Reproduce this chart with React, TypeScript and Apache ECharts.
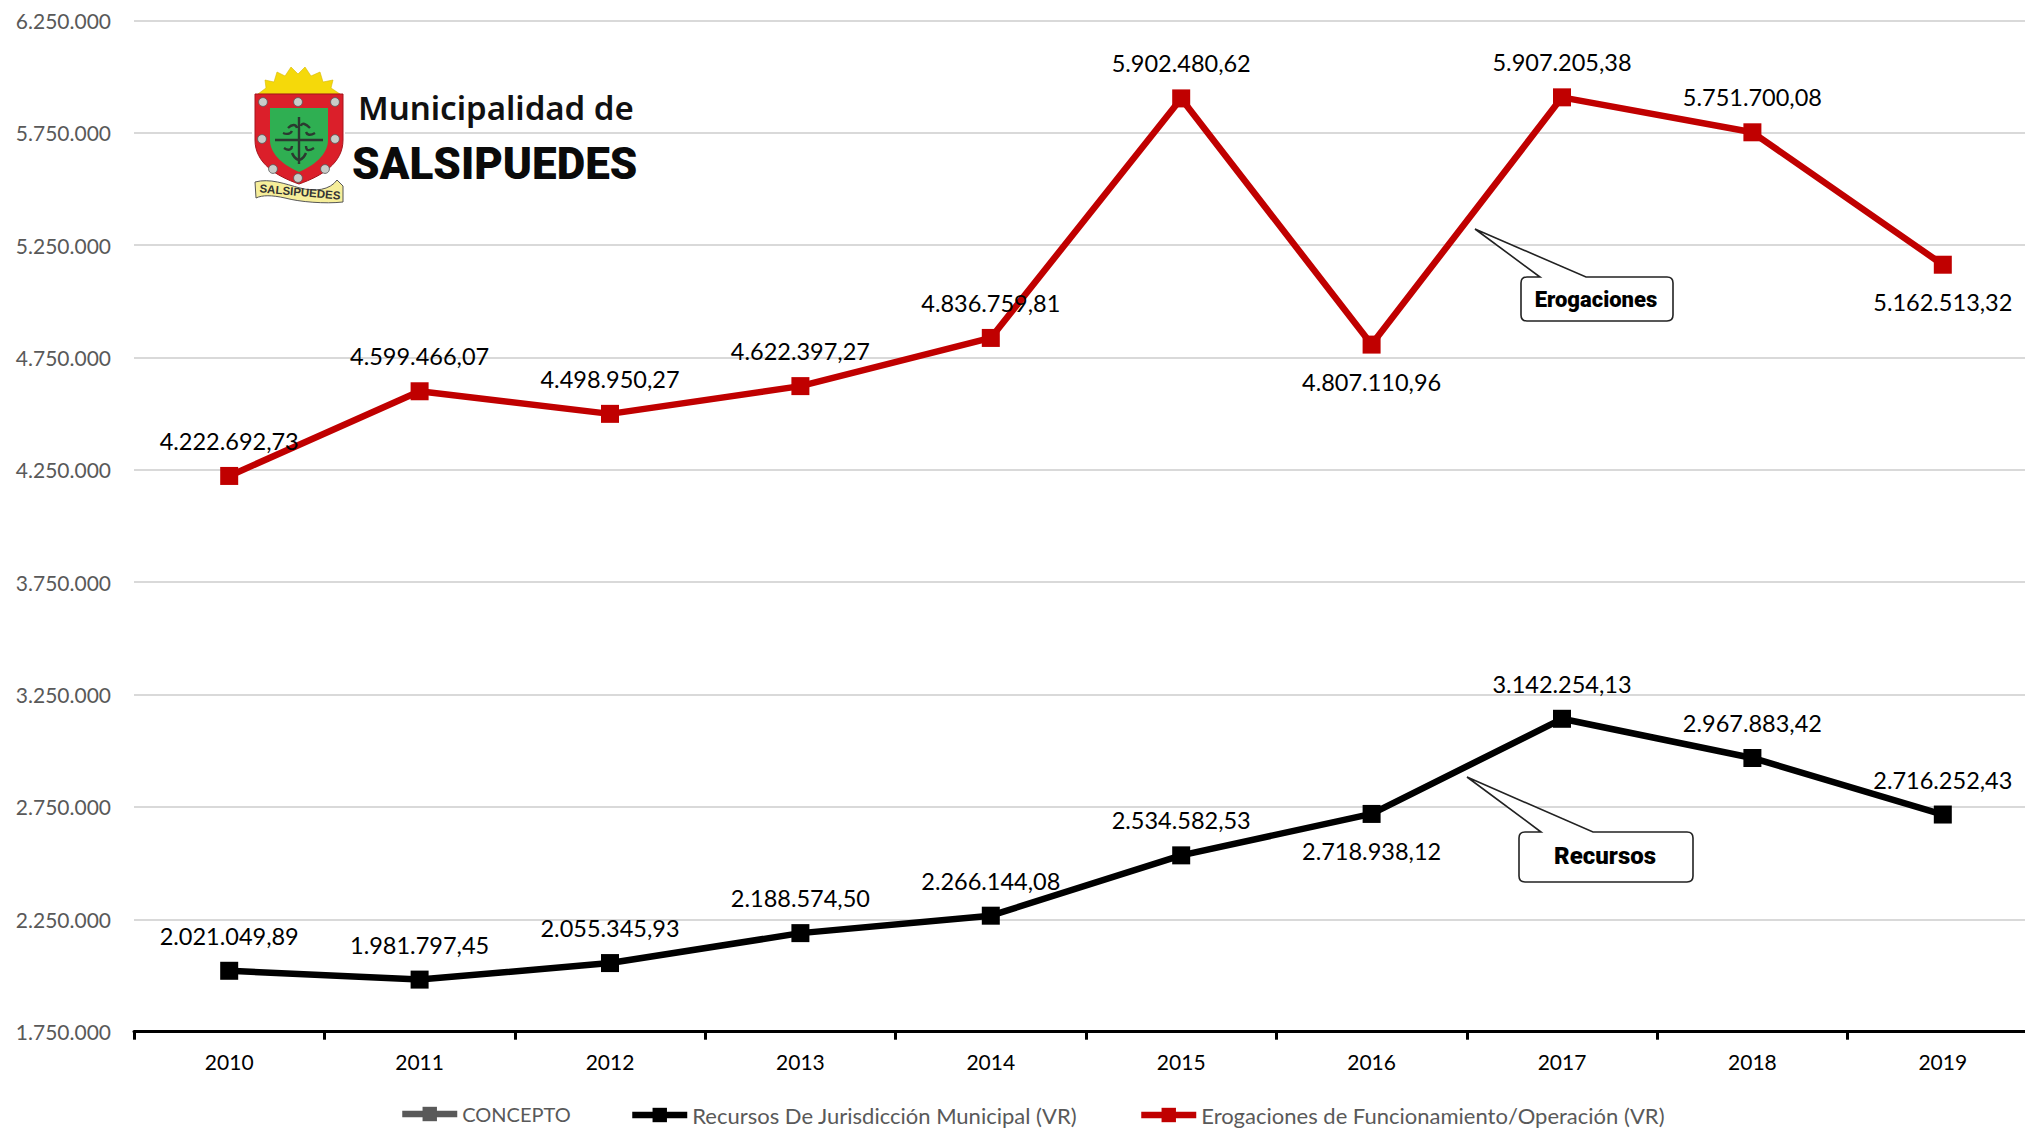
import React, { useEffect, useRef } from "react";
import * as echarts from "echarts";

const categories = ["2010", "2011", "2012", "2013", "2014", "2015", "2016", "2017", "2018", "2019"];
const recursos = [2021049.89, 1981797.45, 2055345.93, 2188574.5, 2266144.08, 2534582.53, 2718938.12, 3142254.13, 2967883.42, 2716252.43];
const erogaciones = [4222692.73, 4599466.07, 4498950.27, 4622397.27, 4836759.81, 5902480.62, 4807110.96, 5907205.38, 5751700.08, 5162513.32];
const recursosBelow = ["2016"];
const erogacionesBelow = ["2016", "2019"];
const seriesNames = ["CONCEPTO", "Recursos De Jurisdicción Municipal (VR)", "Erogaciones de Funcionamiento/Operación (VR)"];

const FONT = "Lato";

const fmt = (v: number, dec: number) => {
  const [i, d] = v.toFixed(dec).split(".");
  const int = i.replace(/\B(?=(\d{3})+(?!\d))/g, ".");
  return d ? `${int},${d}` : int;
};

const shapes: Record<string, string> = {
  callA: "M1475,229 L1586,277 H1667 Q1673,277 1673,283 V315 Q1673,321 1667,321 H1527 Q1521,321 1521,315 V283 Q1521,277 1527,277 H1540 Z",
  callB: "M1467,777 L1593,832 H1687 Q1693,832 1693,838 V876 Q1693,882 1687,882 H1525 Q1519,882 1519,876 V838 Q1519,832 1525,832 H1541 Z",
  shieldOuter: "M255,94 H343 V140 C343,163 322,176 299,184 C276,176 255,163 255,140 Z",
  shieldInner: "M270,108 H328 V140 C328,155 313,166 299,172 C285,166 270,155 270,140 Z",
  sun: "M258,94 L266,88 L265,80 L274,82 L277,72 L285,76 L291,67 L298,74 L305,67 L311,76 L320,72 L323,82 L333,80 L331,88 L340,94 Z",
  ribbon: "M255,182 C270,178 285,184 300,188 C315,192 330,190 337,180 L343,186 V202 C325,204 300,202 285,198 C272,195 262,195 256,198 Z",
  cross: "M299,117 V164 M275,140 H323 M288,128 C292,124 296,124 297,128 M310,128 C306,124 302,122 301,126 M284,148 C290,152 292,148 292,146 M314,148 C308,152 306,150 306,146 M283,133 C288,135 291,133 292,131 M315,133 C310,136 307,135 306,132 M292,153 C294,158 296,159 298,160 M306,153 C304,158 302,159 300,160",
};
Object.entries(shapes).forEach(([k, d]) => {
  echarts.graphic.registerShape(k, echarts.graphic.extendPath(d, {}));
});

const studs = [[263, 102], [298, 102], [335, 102], [262, 139], [335, 139], [273, 169], [298, 178], [325, 169]];
const legendLefts = [394, 624, 1133];
const legendFontSizes = [20, 22, 22];

export default function App() {
  const ref = useRef<HTMLDivElement>(null);
  useEffect(() => {
    const chart = echarts.init(ref.current!, undefined, { renderer: "svg" });
    const labelFor = (below: string[], arr: number[]) =>
      arr.map((value, i) => {
        const isBelow = below.includes(categories[i]);
        return { value, label: { position: isBelow ? "bottom" : "top", distance: isBelow ? 16 : 14 } };
      });
    const lineSeries = (name: string, color: string, data: any[]) => ({
      name,
      type: "line",
      data,
      symbol: "rect",
      symbolSize: 18,
      showAllSymbol: true,
      itemStyle: { color },
      lineStyle: { color, width: 6.5 },
      label: {
        show: true,
        distance: 14,
        fontFamily: FONT,
        fontSize: 23.5,
        color: "#000",
        formatter: (p: any) => fmt(p.value, 2),
      },
      z: 3,
    });
    chart.setOption({
      animation: false,
      backgroundColor: "#fff",
      grid: { left: 134, top: 20.3, width: 1904, height: 1011.4, containLabel: false, outerBoundsMode: "none" },
      legend: seriesNames.map((name, i) => ({
        left: legendLefts[i],
        top: 1099,
        itemWidth: 55,
        itemHeight: 18,
        data: [name],
        lineStyle: { width: 6.5 },
        textStyle: { fontFamily: FONT, fontSize: legendFontSizes[i], color: "#595959" },
      })),
      xAxis: {
        type: "category",
        data: categories,
        boundaryGap: true,
        axisLine: { lineStyle: { color: "#000", width: 3 } },
        axisTick: { show: true, length: 8, lineStyle: { color: "#000", width: 3 } },
        axisLabel: { fontFamily: FONT, fontSize: 21, color: "#000", margin: 19 },
        splitLine: { show: false },
      },
      yAxis: {
        type: "value",
        min: 1750000,
        max: 6250000,
        interval: 250000,
        axisLine: { show: false },
        axisTick: { show: false },
        axisLabel: {
          fontFamily: FONT,
          fontSize: 21,
          color: "#595959",
          margin: 23,
          formatter: (v: number) => ((v - 1750000) % 500000 === 0 ? fmt(v, 0) : ""),
        },
        splitLine: { show: true, lineStyle: { color: ["#D9D9D9", "rgba(0,0,0,0)"], width: 2 } },
      },
      series: [
        lineSeries(seriesNames[0], "#595959", []),
        lineSeries(seriesNames[1], "#000000", labelFor(recursosBelow, recursos)),
        lineSeries(seriesNames[2], "#C00000", labelFor(erogacionesBelow, erogaciones)),
      ],
      graphic: [
        { type: "callA", z: 10, style: { fill: "#fff", stroke: "#222", lineWidth: 1.6 } },
        { type: "callB", z: 10, style: { fill: "#fff", stroke: "#222", lineWidth: 1.6 } },
        { type: "text", z: 11, x: 1596, y: 299, style: { text: "Erogaciones", font: "900 22px Roboto", fill: "#000", align: "center", verticalAlign: "middle" } },
        { type: "text", z: 11, x: 1605, y: 856, style: { text: "Recursos", font: "900 24px Roboto", fill: "#000", align: "center", verticalAlign: "middle" } },
        { type: "rect", z: 10, shape: { x: 252, y: 66, width: 93, height: 140 }, style: { fill: "#fff" } },
        { type: "sun", z: 11, style: { fill: "#F5D90A", stroke: "#D9B800", lineWidth: 0.6 } },
        { type: "shieldOuter", z: 11, style: { fill: "#DB1F2A", stroke: "#A5151D", lineWidth: 1 } },
        { type: "shieldInner", z: 12, style: { fill: "#2FAF52" } },
        { type: "cross", z: 13, style: { fill: "none", stroke: "#2B3A30", lineWidth: 2.4 } },
        ...studs.map(([cx, cy]) => ({
          type: "circle", z: 13, shape: { cx, cy, r: 4.4 }, style: { fill: "#C9CCC9", stroke: "#555", lineWidth: 0.8 },
        })),
        { type: "ribbon", z: 13, style: { fill: "#F6EE9A", stroke: "#555", lineWidth: 1 } },
        { type: "text", z: 14, x: 300, y: 192, rotation: -0.09, style: { text: "SALSIPUEDES", font: "bold 11.5px 'Liberation Sans'", fill: "#333", align: "center", verticalAlign: "middle" } },
        { type: "text", z: 14, x: 358, y: 107, style: { text: "Municipalidad de", font: "600 33px 'Noto Sans'", fill: "#111", verticalAlign: "middle" } },
        { type: "text", z: 14, x: 352, y: 164, style: { text: "SALSIPUEDES", font: "900 44px Roboto", fill: "#0A0A0A", verticalAlign: "middle" } },
      ],
    });
    return () => chart.dispose();
  }, []);
  return <div ref={ref} style={{ position: "fixed", left: 0, top: 0, width: 2025, height: 1128 }} />;
}
